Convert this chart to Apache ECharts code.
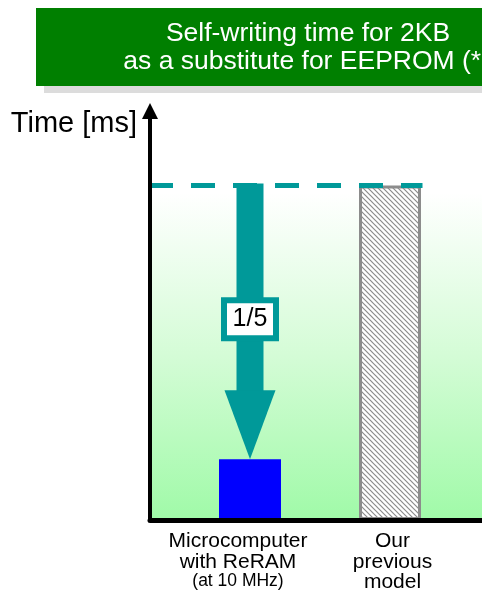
<!DOCTYPE html>
<html>
<head>
<meta charset="utf-8">
<script src="https://cdn.jsdelivr.net/npm/echarts@6/dist/echarts.min.js"></script>
<style>
html,body{margin:0;padding:0;background:#fff;}
#chart{width:482px;height:593px;}
</style>
</head>
<body>
<div id="chart"></div>
<script>
// ---- data ----
const titleLines = ['Self-writing time for 2KB', 'as a substitute for EEPROM (*1)'];
const yAxisName = 'Time [ms]';
const categories = ['Microcomputer\nwith ReRAM\n(at 10 MHz)', 'Our\nprevious\nmodel'];
const writeTimes = [18.2, 100];   // relative self-writing time (previous model = 100)
const ratioLabel = '1/5';
const yMax = 122.3;

// ---- styles ----
const TEAL = '#009999';
const FONT = '"Liberation Sans", Arial, sans-serif';

function hatchPattern() {
  const s = 5;
  const c = document.createElement('canvas');
  c.width = s; c.height = s;
  const ctx = c.getContext('2d');
  ctx.fillStyle = '#ffffff';
  ctx.fillRect(0, 0, s, s);
  ctx.strokeStyle = '#8c8c8c';
  ctx.lineWidth = 1.2;
  for (let k = -1; k <= 1; k++) {
    ctx.beginPath();
    ctx.moveTo(-s, -s + k * s);
    ctx.lineTo(2 * s, 2 * s + k * s);
    ctx.stroke();
  }
  return { image: c, repeat: 'repeat' };
}

const barStyles = [
  { color: '#0000ff' },
  { color: hatchPattern(), borderColor: '#8c8c8c', borderWidth: 3 }
];
const labelPads = [[0, 24, 0, 0], [0, 0, 0, 5]];

const chart = echarts.init(document.getElementById('chart'), null, { renderer: 'canvas' });

function renderArrow(params, api) {
  const cs = params.coordSys;
  const idx = api.value(0);
  const top = api.coord([idx, api.value(1)]);
  const bot = api.coord([idx, api.value(2)]);
  const refPt = api.coord([api.value(3), api.value(1)]);
  const cx = top[0];
  const headH = 69, headW = 51, shaftW = 27;
  const yTop = top[1], yTip = bot[1];
  const yHead = yTip - headH;
  const midY = (yTop + yTip) / 2 - 3;
  return {
    type: 'group',
    children: [
      { type: 'line', shape: { x1: cs.x - 31, y1: yTop, x2: refPt[0] + 32.5, y2: yTop },
        style: { stroke: TEAL, lineWidth: 5, lineDash: [24, 18] }, z2: 10 },
      { type: 'rect', shape: { x: cx - shaftW / 2, y: yTop - 2, width: shaftW, height: yHead - yTop + 3 },
        style: { fill: TEAL } },
      { type: 'polygon', shape: { points: [[cx - headW / 2, yHead], [cx + headW / 2, yHead], [cx, yTip]] },
        style: { fill: TEAL } },
      { type: 'rect', shape: { x: cx - 26, y: midY - 19, width: 52, height: 38 },
        style: { fill: '#ffffff', stroke: TEAL, lineWidth: 6 } },
      { type: 'text', style: { x: cx, y: midY, text: ratioLabel, fontSize: 25, fontFamily: FONT,
        align: 'center', verticalAlign: 'middle', fill: '#000000' } }
    ]
  };
}

const titleStyle = { fontSize: 26.5, fontFamily: FONT, fill: '#ffffff', align: 'center', verticalAlign: 'middle',
  textShadowColor: '#1a1a1a', textShadowOffsetX: 1.5, textShadowOffsetY: 1.5, textShadowBlur: 0 };

const option = {
  backgroundColor: '#ffffff',
  animation: false,
  graphic: [
    { type: 'rect', shape: { x: 44, y: 16, width: 460, height: 77 }, style: { fill: '#dcdcdc' }, z: 10 },
    { type: 'rect', shape: { x: 36, y: 8, width: 460, height: 78 }, style: { fill: '#007f00' }, z: 11 },
    { type: 'text', style: Object.assign({ x: 308, y: 33.5, text: titleLines[0] }, titleStyle), z: 12 },
    { type: 'text', style: Object.assign({ x: 314, y: 61.5, text: titleLines[1] }, titleStyle), z: 12 }
  ],
  grid: [
    { left: 150, right: 0, top: 111, bottom: 73, show: true, borderWidth: 0,
      backgroundColor: { type: 'linear', x: 0, y: 0, x2: 0, y2: 1,
        colorStops: [ { offset: 0, color: '#ffffff' }, { offset: 0.2, color: '#ffffff' },
                      { offset: 0.6, color: '#d4fcd6' }, { offset: 1, color: '#a0faa8' } ] } },
    { left: 180, right: 22, top: 111, bottom: 73 }
  ],
  xAxis: [
    { type: 'value', gridIndex: 0, min: 0, max: 1, z: 5,
      axisLine: { show: true, lineStyle: { color: '#000', width: 5 } },
      axisTick: { show: false }, axisLabel: { show: false }, splitLine: { show: false } },
    { type: 'category', gridIndex: 1,
      data: categories.map(function (c, i) { return { value: c, textStyle: { padding: labelPads[i] } }; }),
      axisLine: { show: false }, axisTick: { show: false }, splitLine: { show: false },
      axisLabel: {
        margin: 11, interval: 0, color: '#000', fontSize: 21, fontFamily: FONT, lineHeight: 20.5,
        formatter: function (v) {
          return v.split('\n').map(function (l) { return l.charAt(0) === '(' ? '{s|' + l + '}' : '{m|' + l + '}'; }).join('\n');
        },
        rich: {
          m: { fontSize: 21, fontFamily: FONT, color: '#000', lineHeight: 20.5 },
          s: { fontSize: 17.5, fontFamily: FONT, color: '#000', lineHeight: 18 }
        }
      } }
  ],
  yAxis: [
    { type: 'value', gridIndex: 0, min: 0, max: 1, z: 5,
      name: yAxisName, nameLocation: 'end', nameGap: -13,
      nameTextStyle: { fontSize: 29, fontFamily: FONT, color: '#000', align: 'right', verticalAlign: 'middle', padding: [0, 13, 0, 0] },
      axisLine: { show: true, symbol: ['none', 'triangle'], symbolSize: [16, 16], lineStyle: { color: '#000', width: 4 } },
      axisTick: { show: false }, axisLabel: { show: false }, splitLine: { show: false } },
    { type: 'value', gridIndex: 1, min: 0, max: yMax,
      axisLine: { show: false }, axisTick: { show: false }, axisLabel: { show: false }, splitLine: { show: false } }
  ],
  series: [
    { type: 'bar', xAxisIndex: 1, yAxisIndex: 1, barWidth: 62, barGap: '-100%',
      data: writeTimes.map(function (v, i) {
        return { value: v, itemStyle: barStyles[i] };
      }) },
    { type: 'custom', xAxisIndex: 1, yAxisIndex: 1, z: 4,
      renderItem: renderArrow,
      data: [[0, writeTimes[1], writeTimes[0], 1]] }
  ]
};
chart.setOption(option);
</script>
</body>
</html>
